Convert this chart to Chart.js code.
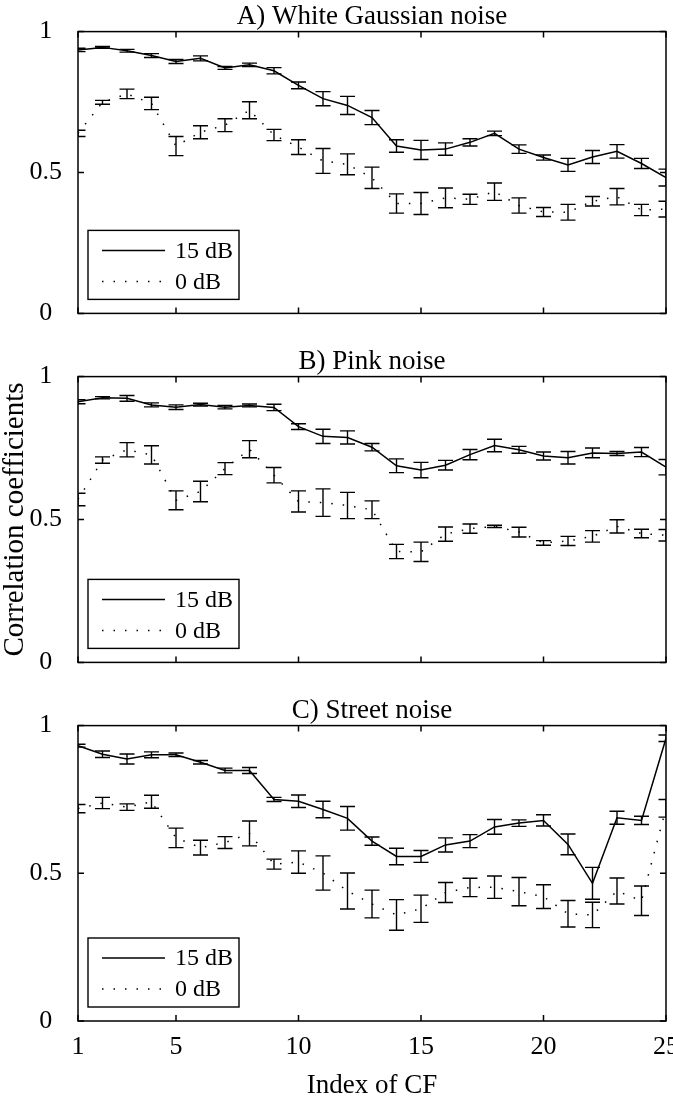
<!DOCTYPE html>
<html><head><meta charset="utf-8">
<script src="https://cdn.jsdelivr.net/npm/chart.js@4.4.0/dist/chart.umd.min.js"></script>
<style>
html,body{margin:0;padding:0;background:#fff;}
#wrap{position:relative;width:673px;height:1099px;overflow:hidden;background:#fff;}
canvas{position:absolute;left:0;display:block;}
</style></head><body>
<div id="wrap">
<canvas id="cA" width="673" height="345" style="top:0px"></canvas>
<canvas id="cB" width="673" height="349" style="top:345px"></canvas>
<canvas id="cC" width="673" height="405" style="top:694px"></canvas>
</div>
<script>
// ---------- data ----------
const cfIndex = [1,2,3,4,5,6,7,8,9,10,11,12,13,14,15,16,17,18,19,20,21,22,23,24,25];
const xTickValues = [1,5,10,15,20,25];
const yTickValues = [0,0.5,1];
const seriesLabels = ['15 dB','0 dB'];
const panelTitles = ['A) White Gaussian noise','B) Pink noise','C) Street noise'];
const xAxisTitle = 'Index of CF';
const yAxisTitle = 'Correlation coefficients';

const whiteHigh    = [0.935,0.944,0.932,0.915,0.894,0.905,0.871,0.882,0.861,0.809,0.762,0.738,0.695,0.594,0.580,0.583,0.607,0.639,0.583,0.553,0.527,0.555,0.575,0.532,0.482];
const whiteHighErr = [0.006,0.003,0.005,0.007,0.007,0.009,0.005,0.006,0.011,0.012,0.025,0.032,0.025,0.022,0.034,0.022,0.013,0.008,0.015,0.009,0.023,0.023,0.024,0.018,0.030];
const whiteLow     = [0.639,0.749,0.779,0.745,0.594,0.643,0.668,0.721,0.633,0.590,0.541,0.529,0.481,0.390,0.390,0.410,0.405,0.432,0.383,0.360,0.359,0.398,0.414,0.367,0.370];
const whiteLowErr  = [0.011,0.007,0.017,0.022,0.034,0.023,0.023,0.030,0.020,0.026,0.044,0.037,0.038,0.034,0.039,0.035,0.018,0.031,0.027,0.016,0.028,0.017,0.029,0.020,0.028];

const pinkHigh     = [0.912,0.926,0.924,0.901,0.893,0.902,0.893,0.899,0.892,0.825,0.791,0.787,0.753,0.688,0.673,0.690,0.727,0.759,0.744,0.722,0.716,0.733,0.731,0.736,0.683];
const pinkHighErr  = [0.007,0.004,0.010,0.007,0.008,0.005,0.006,0.005,0.011,0.010,0.025,0.023,0.013,0.024,0.027,0.017,0.018,0.022,0.012,0.014,0.022,0.017,0.007,0.016,0.027];
const pinkLow      = [0.570,0.708,0.744,0.726,0.567,0.598,0.678,0.746,0.655,0.563,0.559,0.549,0.534,0.388,0.387,0.449,0.468,0.476,0.456,0.418,0.425,0.441,0.476,0.451,0.445];
const pinkLowErr   = [0.022,0.011,0.025,0.032,0.033,0.036,0.021,0.030,0.027,0.037,0.048,0.046,0.031,0.025,0.034,0.025,0.016,0.004,0.017,0.008,0.016,0.020,0.023,0.015,0.020];

const streetHigh    = [0.932,0.903,0.887,0.901,0.901,0.876,0.848,0.848,0.750,0.744,0.716,0.686,0.609,0.557,0.557,0.596,0.609,0.657,0.670,0.679,0.598,0.466,0.688,0.679,0.957];
const streetHighErr = [0.005,0.011,0.017,0.010,0.006,0.006,0.008,0.010,0.007,0.021,0.028,0.040,0.014,0.028,0.020,0.024,0.022,0.025,0.011,0.019,0.035,0.054,0.022,0.014,0.011];
const streetLow     = [0.719,0.738,0.724,0.742,0.620,0.587,0.604,0.635,0.531,0.538,0.501,0.440,0.396,0.359,0.380,0.435,0.452,0.453,0.438,0.421,0.363,0.359,0.440,0.407,0.720];
const streetLowErr  = [0.014,0.019,0.011,0.022,0.033,0.025,0.020,0.042,0.017,0.038,0.058,0.061,0.047,0.052,0.046,0.034,0.031,0.038,0.048,0.040,0.045,0.043,0.044,0.050,0.030];

// ---------- style ----------
const FONT = "'Liberation Serif','Times New Roman',serif";
Chart.defaults.color = '#000';
Chart.defaults.font.family = FONT;
const SOLID_W = 1.5, DOT_W = 1.5, DOT_DASH = [1.5, 10];

const framePlugin = {
  id: 'frame',
  afterDatasetsDraw(chart) {
    const {ctx, chartArea: a, scales: {x, y}} = chart;
    ctx.save();
    ctx.beginPath(); ctx.rect(a.left, a.top, a.right - a.left, a.bottom - a.top); ctx.clip();
    ctx.strokeStyle = '#000'; ctx.lineWidth = 1.4; ctx.setLineDash([]);
    chart.data.datasets.forEach(ds => {
      ds.data.forEach((p, i) => {
        const e = ds.errors[i];
        const px = x.getPixelForValue(p.x);
        const t = y.getPixelForValue(p.y + e), b = y.getPixelForValue(p.y - e);
        ctx.beginPath();
        ctx.moveTo(px, t); ctx.lineTo(px, b);
        ctx.moveTo(px - 7.5, t); ctx.lineTo(px + 7.5, t);
        ctx.moveTo(px - 7.5, b); ctx.lineTo(px + 7.5, b);
        ctx.stroke();
      });
    });
    ctx.restore();
  },
  afterDraw(chart) {
    const {ctx, chartArea: a, scales: {x, y}} = chart;
    ctx.save();
    ctx.strokeStyle = '#000'; ctx.lineWidth = 1.5; ctx.setLineDash([]);
    ctx.strokeRect(a.left, a.top, a.right - a.left, a.bottom - a.top);
    ctx.beginPath();
    xTickValues.forEach(v => {
      const px = x.getPixelForValue(v);
      ctx.moveTo(px, a.bottom); ctx.lineTo(px, a.bottom - 6);
      ctx.moveTo(px, a.top); ctx.lineTo(px, a.top + 6);
    });
    yTickValues.forEach(v => {
      const py = y.getPixelForValue(v);
      ctx.moveTo(a.left, py); ctx.lineTo(a.left + 6, py);
      ctx.moveTo(a.right, py); ctx.lineTo(a.right - 6, py);
    });
    ctx.stroke();
    // legend
    const lx = a.left + 10, ly = a.bottom - 83, lw = 151, lh = 69;
    ctx.lineWidth = 1.4;
    ctx.fillStyle = '#fff';
    ctx.fillRect(lx, ly, lw, lh);
    ctx.strokeRect(lx, ly, lw, lh);
    ctx.font = '24px ' + FONT;
    ctx.fillStyle = '#000';
    ctx.textBaseline = 'middle';
    ctx.textAlign = 'left';
    chart.data.datasets.forEach((ds, k) => {
      const ry = ly + 20 + k * 31;
      ctx.beginPath();
      ctx.lineWidth = ds.borderWidth;
      ctx.setLineDash(ds.borderDash || []);
      ctx.moveTo(lx + 14, ry); ctx.lineTo(lx + 77, ry);
      ctx.stroke();
      ctx.setLineDash([]);
      ctx.fillText(ds.label, lx + 87, ry + 1);
    });
    ctx.restore();
  }
};

function makePanel(id, k, high, highErr, low, lowErr, xScaleH, isBottom, showYTitle) {
  const pts = arr => cfIndex.map((c, i) => ({x: c, y: arr[i]}));
  return new Chart(document.getElementById(id), {
    type: 'line',
    data: {
      datasets: [
        {label: seriesLabels[0], data: pts(high), errors: highErr, borderColor: '#000', borderWidth: SOLID_W,
         pointRadius: 0, tension: 0, fill: false},
        {label: seriesLabels[1], data: pts(low), errors: lowErr, borderColor: '#000', borderWidth: DOT_W,
         borderDash: DOT_DASH, pointRadius: 0, tension: 0, fill: false}
      ]
    },
    options: {
      responsive: false, animation: false, devicePixelRatio: 1,
      layout: {padding: {left: 0, right: 7, top: 0, bottom: 0}},
      plugins: {
        legend: {display: false}, tooltip: {enabled: false},
        title: {display: true, text: panelTitles[k], fullSize: false, color: '#000',
                font: {family: FONT, size: 27, weight: 'normal', lineHeight: 1},
                padding: {top: 1, bottom: 1}}
      },
      scales: {
        x: {
          type: 'linear', min: 1, max: 25,
          afterBuildTicks: s => { s.ticks = xTickValues.map(v => ({value: v})); },
          afterFit: s => { s.height = xScaleH; s.paddingLeft = 0; s.paddingRight = 0; },
          grid: {display: false, drawTicks: false}, border: {display: false},
          ticks: {display: isBottom, autoSkip: false, maxRotation: 0, padding: 11,
                  font: {family: FONT, size: 26, lineHeight: 1.2}, color: '#000'},
          title: {display: isBottom, text: xAxisTitle, color: '#000',
                  font: {family: FONT, size: 27, lineHeight: 1}, padding: {top: 0, bottom: 0}}
        },
        y: {
          type: 'linear', min: 0, max: 1,
          afterBuildTicks: s => { s.ticks = yTickValues.map(v => ({value: v})); },
          afterFit: s => { s.width = 78; },
          grid: {display: false, drawTicks: false}, border: {display: false},
          ticks: {crossAlign: 'center', padding: 16, color: '#000',
                  font: {family: FONT, size: 26, lineHeight: 1.2},
                  callback: v => String(v)},
          title: {display: showYTitle, text: yAxisTitle, color: '#000',
                  font: {family: FONT, size: 29, lineHeight: 1}, padding: {top: 1, bottom: 0}}
        }
      }
    },
    plugins: [framePlugin]
  });
}

makePanel('cA', 0, whiteHigh, whiteHighErr, whiteLow, whiteLowErr, 18, false, false);
makePanel('cB', 1, pinkHigh, pinkHighErr, pinkLow, pinkLowErr, 23, false, true);
makePanel('cC', 2, streetHigh, streetHighErr, streetLow, streetLowErr, 78, true, false);
</script>
</body></html>
